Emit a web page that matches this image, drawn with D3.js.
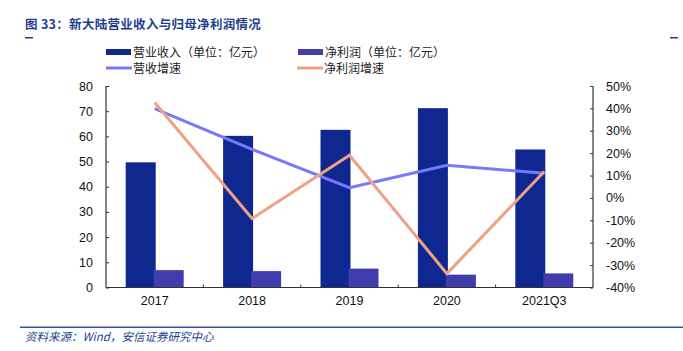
<!DOCTYPE html>
<html>
<head>
<meta charset="utf-8">
<script src="https://cdn.jsdelivr.net/npm/d3@7"></script>
<style>
  body { margin: 0; background: #fff; }
  svg text { font-family: "Liberation Sans", Arial, sans-serif; }
  .cjk { font-family: "Noto Sans CJK SC", sans-serif; }
</style>
</head>
<body>
<div id="chart"></div>
<script>
// 数据
const categories = ['2017', '2018', '2019', '2020', '2021Q3'];
const revenue = [49.7, 60.2, 62.6, 71.2, 54.8];     // 营业收入（亿元）
const netProfit = [6.9, 6.5, 7.5, 5.1, 5.6];        // 净利润（亿元）
const revenueGrowth = [39.9, 21.7, 4.6, 14.6, 11.0]; // 营收增速 %
const profitGrowth = [42.6, -9.2, 19.1, -33.8, 11.8]; // 净利润增速 %
const leftTicks = [0, 10, 20, 30, 40, 50, 60, 70, 80];
const rightTicks = [-40, -30, -20, -10, 0, 10, 20, 30, 40, 50];

const width = 683, height = 351;
const margin = { top: 86, right: 90, bottom: 64, left: 106 };
const innerW = 593 - margin.left;
const innerH = 287.5 - margin.top;

const C_REV = '#0F2890', C_PROFIT = '#413DAE', C_RG = '#7878FF', C_PG = '#EFA283';
const TITLE_BLUE = '#1E3F8E';

const svg = d3.select('#chart').append('svg')
  .attr('width', width).attr('height', height);

// 标题
svg.append('text').attr('class', 'cjk')
  .attr('x', 25).attr('y', 29)
  .style('font-size', '12.5px').style('font-weight', 'bold')
  .style('letter-spacing', '0.3px')
  .attr('fill', TITLE_BLUE)
  .text('图 33：新大陆营业收入与归母净利润情况');
svg.append('rect').attr('x', 25).attr('y', 37).attr('width', 8).attr('height', 1.5).attr('fill', TITLE_BLUE);
svg.append('rect').attr('x', 670).attr('y', 37).attr('width', 8).attr('height', 1.5).attr('fill', TITLE_BLUE);

// 底部来源
svg.append('rect').attr('x', 20).attr('y', 326.5).attr('width', 663).attr('height', 1.5).attr('fill', '#2F4FA0');
svg.append('text').attr('class', 'cjk')
  .attr('x', 25).attr('y', 341)
  .style('font-size', '11.5px').style('font-style', 'italic')
  .attr('fill', TITLE_BLUE)
  .text('资料来源：Wind，安信证券研究中心');

// 图例
const legend = [
  { label: '营业收入（单位：亿元）', color: C_REV, type: 'bar', x: 106, y: 52 },
  { label: '净利润（单位：亿元）', color: C_PROFIT, type: 'bar', x: 298, y: 52 },
  { label: '营收增速', color: C_RG, type: 'line', x: 106, y: 68 },
  { label: '净利润增速', color: C_PG, type: 'line', x: 297, y: 68 }
];
const lg = svg.append('g');
legend.forEach(d => {
  if (d.type === 'bar') {
    lg.append('rect').attr('x', d.x).attr('y', d.y - 3).attr('width', 25).attr('height', 6).attr('fill', d.color);
  } else {
    lg.append('line').attr('x1', d.x).attr('x2', d.x + 26).attr('y1', d.y).attr('y2', d.y)
      .attr('stroke', d.color).attr('stroke-width', 3);
  }
  lg.append('text').attr('class', 'cjk')
    .attr('x', d.x + 27).attr('y', d.y + 4.5)
    .style('font-size', '12px').attr('fill', '#222')
    .text(d.label);
});

const g = svg.append('g').attr('transform', `translate(${margin.left},${margin.top})`);

// 比例尺
const x = d3.scaleBand().domain(categories).range([0, innerW]);
const yL = d3.scaleLinear().domain([0, 80]).range([innerH, 0]);
const yR = d3.scaleLinear().domain([-40, 50]).range([innerH, 0]);

const barW = 30;

// 柱子
g.selectAll('.rev').data(categories).enter().append('rect')
  .attr('class', 'rev')
  .attr('x', d => x(d) + x.bandwidth() / 2 - 29)
  .attr('y', (d, i) => yL(revenue[i]))
  .attr('width', barW)
  .attr('height', (d, i) => innerH - yL(revenue[i]))
  .attr('fill', C_REV);

g.selectAll('.profit').data(categories).enter().append('rect')
  .attr('class', 'profit')
  .attr('x', d => x(d) + x.bandwidth() / 2 - 1)
  .attr('y', (d, i) => yL(netProfit[i]))
  .attr('width', barW)
  .attr('height', (d, i) => innerH - yL(netProfit[i]))
  .attr('fill', C_PROFIT);

// 折线
const line = d3.line()
  .x((d, i) => x(categories[i]) + x.bandwidth() / 2)
  .y(d => yR(d));

g.append('path').datum(revenueGrowth)
  .attr('d', line).attr('fill', 'none')
  .attr('stroke', C_RG).attr('stroke-width', 3);
g.append('path').datum(profitGrowth)
  .attr('d', line).attr('fill', 'none')
  .attr('stroke', C_PG).attr('stroke-width', 3);

// 坐标轴
const axisColor = '#333';
const leftAxis = g.append('g')
  .call(d3.axisLeft(yL).tickValues(leftTicks).tickSize(-3).tickPadding(13));
const rightAxis = g.append('g')
  .attr('transform', `translate(${innerW},0)`)
  .call(d3.axisRight(yR).tickValues(rightTicks).tickSize(-3).tickPadding(13).tickFormat(d => d + '%'));
const xAxis = g.append('g')
  .attr('transform', `translate(0,${innerH})`)
  .call(d3.axisBottom(x).tickSize(0).tickPadding(9));

// x轴分隔刻度
g.selectAll('.sep').data(categories.slice(1)).enter().append('line')
  .attr('x1', d => x(d)).attr('x2', d => x(d))
  .attr('y1', innerH).attr('y2', innerH - 3)
  .attr('stroke', axisColor);

[leftAxis, rightAxis, xAxis].forEach(a => {
  a.select('.domain').attr('stroke', axisColor).attr('stroke-width', 1.2);
  a.selectAll('.tick line').attr('stroke', axisColor);
  a.selectAll('.tick text').style('font-size', '12.5px').attr('fill', '#111');
});
leftAxis.select('.domain').attr('d', `M0,0V${innerH}`);
rightAxis.select('.domain').attr('d', `M0,0V${innerH}`);
xAxis.select('.domain').attr('d', `M0,0H${innerW}`);
</script>
</body>
</html>
